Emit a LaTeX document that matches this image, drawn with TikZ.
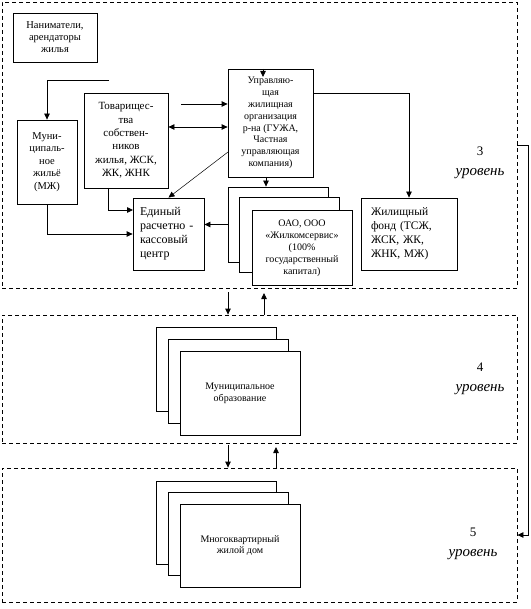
\documentclass[tikz,border=0pt]{standalone}
\usepackage{fontspec}
\setmainfont{Liberation Serif}
\usepackage{tikz}
\usetikzlibrary{arrows.meta}

\begin{document}
\begin{tikzpicture}[x=1pt,y=-1pt,%
unit/.style={draw,fill=white,line width=0.8pt,inner sep=1pt,align=center},
level/.style={draw,line width=0.8pt,dash pattern=on 4pt off 3pt,inner sep=0pt},
arrow/.style={line width=0.8pt,draw=black,-{Triangle[length=6pt,width=5.5pt]}},
tag/.style={align=center,font=\fontsize{13}{20}\selectfont}
]
\useasboundingbox (0,0) rectangle (530,609);
\node[style=level,minimum width=515pt,minimum height=286pt] (level3) at (259.5,145) {};
\node[style=level,minimum width=515pt,minimum height=128pt] (level4) at (259.5,379) {};
\node[style=level,minimum width=515pt,minimum height=134pt] (level5) at (259.5,535) {};
\node[style=unit,minimum width=84pt,minimum height=49pt,font=\fontsize{10.5}{12}\selectfont] (tenants) at (55,37.5) {Наниматели,\\арендаторы\\жилья};
\node[style=unit,minimum width=60pt,minimum height=84pt,font=\fontsize{10.5}{12.5}\selectfont] (muni) at (47,162) {Муни-\\ципаль-\\ное\\жильё\\(МЖ)};
\node[style=unit,minimum width=84pt,minimum height=95pt,font=\fontsize{11}{13.4}\selectfont] (tov) at (126,140.5) {Товарищес-\\тва\\собствен-\\ников\\жилья, ЖСК,\\ЖК, ЖНК};
\node[style=unit,minimum width=85pt,minimum height=108pt,font=\fontsize{10}{11.8}\selectfont] (upr) at (270.5,123) {Управляю-\\щая\\жилищная\\организация\\р-на (ГУЖА,\\Частная\\управляющая\\компания)};
\node[style=unit,minimum width=71pt,minimum height=72pt,text width=57pt,align=left,font=\fontsize{12}{14}\selectfont] (erkc) at (168.5,234) {Единый\\расчетно -\\кассовый\\центр};
\node[style=unit,minimum width=96pt,minimum height=72pt,text width=76pt,align=left,font=\fontsize{11.5}{14}\selectfont] (fond) at (409,234) {Жилищный\\фонд (ТСЖ,\\ЖСК, ЖК,\\ЖНК, МЖ)};
\node[style=unit,minimum width=100pt,minimum height=75pt] (oao1) at (278,224.5) {};
\node[style=unit,minimum width=100pt,minimum height=75pt] (oao2) at (289,235) {};
\node[style=unit,minimum width=100pt,minimum height=75pt,font=\fontsize{10}{12}\selectfont] (oao3) at (302,248)
  {ОАО, ООО\\«Жилкомсервис»\\(100\%\\государственный\\капитал)};
\node[style=unit,minimum width=120pt,minimum height=84pt] (mun1) at (216.5,369.5) {};
\node[style=unit,minimum width=120pt,minimum height=84pt] (mun2) at (228,381) {};
\node[style=unit,minimum width=120pt,minimum height=84pt,font=\fontsize{10}{11.7}\selectfont] (mun3) at (240,393) {Муниципальное\\образование};
\node[style=unit,minimum width=120pt,minimum height=83pt] (house1) at (216.5,522.5) {};
\node[style=unit,minimum width=120pt,minimum height=83pt] (house2) at (228,534) {};
\node[style=unit,minimum width=120pt,minimum height=83pt,font=\fontsize{10}{11.7}\selectfont] (house3) at (240,545.5) {Многоквартирный\\жилой дом};
\node[style=tag] (tag3) at (480,163) {3\\{\fontsize{15}{20}\selectfont\itshape уровень}};
\node[style=tag] (tag4) at (480,379) {4\\{\fontsize{15}{20}\selectfont\itshape уровень}};
\node[style=tag] (tag5) at (473,544) {5\\{\fontsize{15}{20}\selectfont\itshape уровень}};
\coordinate (tenants feed) at (109,80);
\coordinate (tov feed) at (181,104);
\coordinate (tov link) at (168,127);
\coordinate (upr top) at (263,69);
\coordinate (upr out) at (313,93);
\coordinate (upr down) at (266,177);
\coordinate (upr corner) at (228,152);
\coordinate (tov out) at (108,188);
\coordinate (erkc in) at (133,210);
\coordinate (down3) at (228,292);
\coordinate (up3) at (264,293);
\coordinate (down4) at (228,445);
\coordinate (up4) at (276,447);
\path[style=arrow] (tenants feed) -| (muni.north);
\path[style=arrow] (tov feed) -- (tov feed -| upr.west);
\path[style=arrow,{Triangle[length=6pt,width=5.5pt]}-{Triangle[length=6pt,width=5.5pt]}] (tov.east |- tov link) -- (tov link -| upr.west);
\path[style=arrow] (upr top) -- ++(0,8);
\path[style=arrow] (upr out) -| (fond.north);
\path[style=arrow] (upr down) -- (upr down |- oao1.north);
\path[style=arrow] (oao1.west) -- (oao1.west -| erkc.east);
\path[style=arrow,line width=0.5pt] (upr corner) -- (erkc.north);
\path[style=arrow] (tov out) |- (erkc in);
\path[style=arrow] (muni.south) |- (erkc.west);
\path[style=arrow] (down3) -- (down3 |- level4.north);
\path[style=arrow] (up3 |- level4.north) -- (up3);
\path[style=arrow] (down4) -- (down4 |- level5.north);
\path[style=arrow] (up4 |- level5.north) -- (up4);
\path[style=arrow] (level3.east) -- ++(11,0) |- (level5.east);
\end{tikzpicture}
\end{document}
